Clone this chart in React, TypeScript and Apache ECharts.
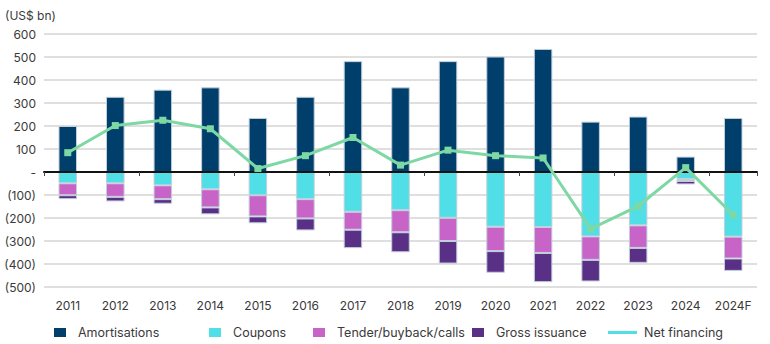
import React, { useEffect, useRef } from "react";
import * as echarts from "echarts";

const years = ["2011","2012","2013","2014","2015","2016","2017","2018","2019","2020","2021","2022","2023","2024","2024F"];
const amortisations = [200, 327, 358, 368, 235, 327, 482, 368, 482, 502, 535, 219, 241, 67, 235];
const coupons = [-49, -49, -58, -75, -101, -118, -173, -166, -199, -238, -239, -280, -232, -31, -281];
const tender = [-52, -59, -60, -79, -92, -84, -78, -96, -101, -106, -113, -102, -98, -8, -95];
const gross = [-17, -20, -20, -30, -30, -52, -80, -87, -98, -94, -127, -94, -65, -15, -54];
const netFinancing = [84, 202, 225, 188, 15, 71, 150, 30, 95, 71, 61, -247, -148, 19, -187];

const FONT = "Inter";
const TEXT = "#3a3a3a";
const C_AMORT = "#003f6b";
const C_COUP = "#50dfe6";
const C_TEND = "#c864c8";
const C_GROSS = "#5a2f86";
const C_NET = "#7dd8a4";

export default function App() {
  const ref = useRef<HTMLDivElement>(null);
  useEffect(() => {
    if (!ref.current) return;
    const chart = echarts.init(ref.current, null, { renderer: "svg" });
    const barBase = {
      type: "bar",
      stack: "total",
      barWidth: "39%",
      xAxisIndex: 0,
      itemStyle: { borderColor: "#c3cfdb", borderWidth: 1 },
    };
    const legendBase = {
      top: 326,
      itemWidth: 12,
      itemHeight: 9,
      padding: 0,
      textStyle: { fontFamily: FONT, fontSize: 12.5, color: TEXT, padding: [0, 0, 0, 7] },
      itemGap: 0,
    };
    chart.setOption({
      animation: false,
      textStyle: { fontFamily: FONT },
      grid: { left: 44, right: 13, top: 34, bottom: 57 },
      title: {
        text: "(US$ bn)",
        left: 5,
        top: 9,
        padding: 0,
        textStyle: { fontFamily: FONT, fontSize: 12, fontWeight: "normal", color: TEXT },
      },
      legend: [
        { ...legendBase, left: 54, data: [{ name: "Amortisations", icon: "rect", itemStyle: { color: C_AMORT, borderWidth: 0 } }] },
        { ...legendBase, left: 209, data: [{ name: "Coupons", icon: "rect", itemStyle: { color: C_COUP, borderWidth: 0 } }] },
        { ...legendBase, left: 313, data: [{ name: "Tender/buyback/calls", icon: "rect", itemStyle: { color: C_TEND, borderWidth: 0 } }] },
        { ...legendBase, left: 472, data: [{ name: "Gross issuance", icon: "rect", itemStyle: { color: C_GROSS, borderWidth: 0 } }] },
        {
          ...legendBase,
          left: 608,
          itemWidth: 29,
          itemHeight: 3,
          textStyle: { ...legendBase.textStyle, padding: [0, 0, 0, 2] },
          data: [{ name: "Net financing", icon: "rect", itemStyle: { color: C_COUP, borderWidth: 0 } }],
        },
      ],
      xAxis: [
        {
          type: "category",
          data: years,
          position: "bottom",
          axisLine: { onZero: false, show: false },
          axisTick: { show: false },
          axisLabel: { fontFamily: FONT, fontSize: 12, color: TEXT, margin: 12, interval: 0 },
        },
        {
          type: "category",
          data: years,
          position: "bottom",
          axisLine: { onZero: true, show: true, lineStyle: { color: "#111111", width: 2 } },
          axisTick: { show: true, length: 4, lineStyle: { color: "#444444", width: 1 } },
          axisLabel: { show: false },
          z: 10,
        },
      ],
      yAxis: {
        type: "value",
        min: -500,
        max: 600,
        interval: 100,
        axisLine: { show: false },
        axisTick: { show: false },
        splitLine: { lineStyle: { color: "#d4d4d4", width: 1.5 } },
        axisLabel: {
          fontFamily: FONT,
          fontSize: 12,
          color: TEXT,
          margin: 8,
          formatter: (v: number) => (v === 0 ? "-" : v < 0 ? `(${-v})` : `${v}`),
        },
      },
      series: [
        { ...barBase, name: "Amortisations", data: amortisations, itemStyle: { ...barBase.itemStyle, color: C_AMORT } },
        { ...barBase, name: "Coupons", data: coupons, itemStyle: { ...barBase.itemStyle, color: C_COUP } },
        { ...barBase, name: "Tender/buyback/calls", data: tender, itemStyle: { ...barBase.itemStyle, color: C_TEND } },
        { ...barBase, name: "Gross issuance", data: gross, itemStyle: { ...barBase.itemStyle, color: C_GROSS } },
        {
          type: "line",
          name: "Net financing",
          data: netFinancing,
          xAxisIndex: 0,
          symbol: "rect",
          symbolSize: 7,
          z: 20,
          lineStyle: { color: C_NET, width: 3 },
          itemStyle: { color: C_NET },
        },
      ],
    });
    return () => chart.dispose();
  }, []);
  return <div ref={ref} style={{ width: 770, height: 344, position: "absolute", left: 0, top: 0 }} />;
}
